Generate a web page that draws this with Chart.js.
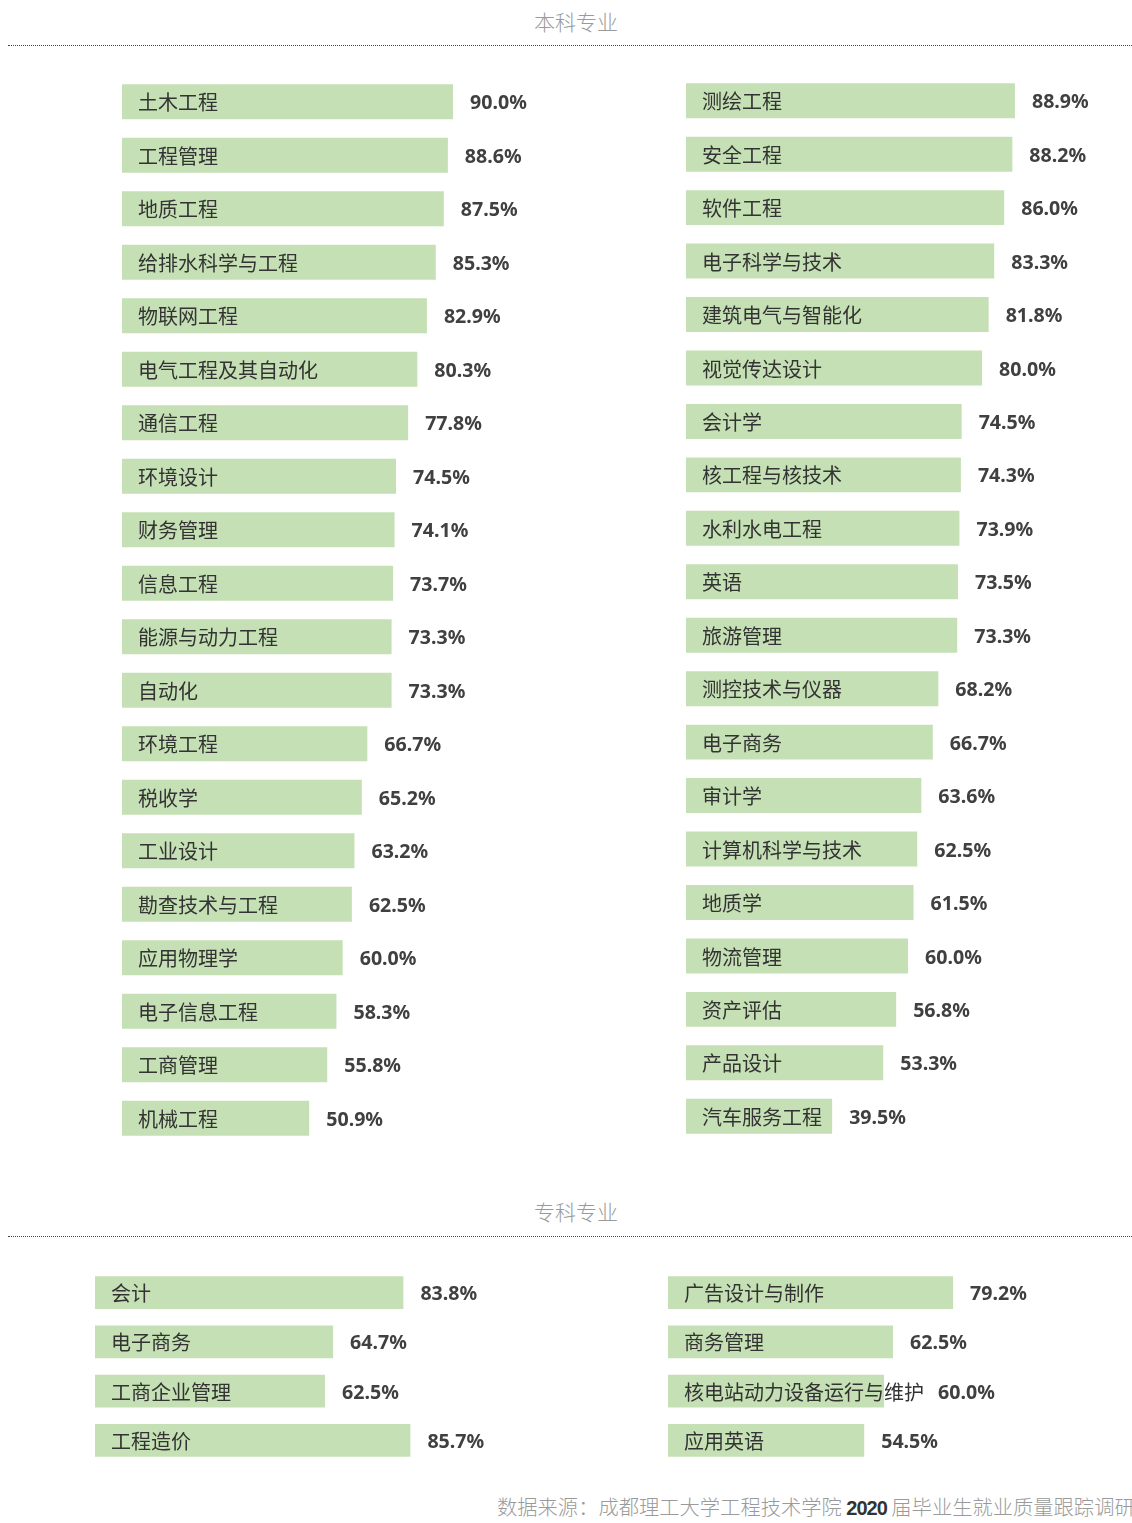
<!DOCTYPE html>
<html>
<head>
<meta charset="utf-8">
<script src="https://cdn.jsdelivr.net/npm/chart.js@4.4.1/dist/chart.umd.min.js"></script>
<style>
  html, body { margin: 0; padding: 0; background: #fff; }
  body { width: 1132px; height: 1523px; position: relative; overflow: hidden; font-family: "Noto Sans CJK SC", "Noto Sans", sans-serif; }
  .title { position: absolute; left: 0; width: 1152px; text-align: center; font-size: 21px; font-weight: 300; color: #9a9a9a; line-height: 1; }
  .rule { position: absolute; left: 8px; width: 1124px; height: 0; border-top: 1px dotted #444; }
  canvas { position: absolute; }
  .foot { position: absolute; left: 497px; top: 1496px; white-space: nowrap; font-size: 20.3px; font-weight: 300; color: #9a9a9a; line-height: 1; }
  .foot b { font-family: "Liberation Sans", sans-serif; font-weight: bold; color: #333; font-size: 20px; letter-spacing: -1px; }
</style>
</head>
<body>
<div class="title" style="top:11px;">本科专业</div>
<div class="rule" style="top:45px;"></div>
<div class="title" style="top:1201px;">专科专业</div>
<div class="rule" style="top:1236px;"></div>
<canvas id="c1"></canvas>
<canvas id="c2"></canvas>
<canvas id="c3"></canvas>
<canvas id="c4"></canvas>
<div class="foot">数据来源：成都理工大学工程技术学院 <b>2020 </b>届毕业生就业质量跟踪调研</div>
<script>
// ---- data ----
const ugLeftMajors = ["土木工程","工程管理","地质工程","给排水科学与工程","物联网工程","电气工程及其自动化","通信工程","环境设计","财务管理","信息工程","能源与动力工程","自动化","环境工程","税收学","工业设计","勘查技术与工程","应用物理学","电子信息工程","工商管理","机械工程"];
const ugLeftRates = [90.0,88.6,87.5,85.3,82.9,80.3,77.8,74.5,74.1,73.7,73.3,73.3,66.7,65.2,63.2,62.5,60.0,58.3,55.8,50.9];

const ugRightMajors = ["测绘工程","安全工程","软件工程","电子科学与技术","建筑电气与智能化","视觉传达设计","会计学","核工程与核技术","水利水电工程","英语","旅游管理","测控技术与仪器","电子商务","审计学","计算机科学与技术","地质学","物流管理","资产评估","产品设计","汽车服务工程"];
const ugRightRates = [88.9,88.2,86.0,83.3,81.8,80.0,74.5,74.3,73.9,73.5,73.3,68.2,66.7,63.6,62.5,61.5,60.0,56.8,53.3,39.5];

const jcLeftMajors = ["会计","电子商务","工商企业管理","工程造价"];
const jcLeftRates = [83.8,64.7,62.5,85.7];

const jcRightMajors = ["广告设计与制作","商务管理","核电站动力设备运行与维护","应用英语"];
const jcRightRates = [79.2,62.5,60.0,54.5];

// ---- drawing ----
const labelPlugin = {
  id: 'barLabels',
  afterDatasetsDraw(chart) {
    const ctx = chart.ctx;
    const meta = chart.getDatasetMeta(0);
    const ds = chart.data.datasets[0];
    ctx.save();
    meta.data.forEach((el, i) => {
      const label = chart.data.labels[i];
      ctx.textBaseline = 'middle';
      ctx.textAlign = 'left';
      ctx.font = '20px "Noto Sans CJK SC", sans-serif';
      ctx.fillStyle = '#333333';
      const lx = el.base + 16;
      ctx.fillText(label, lx, el.y + 1);
      const lEnd = lx + ctx.measureText(label).width;
      ctx.font = 'bold 19.6px "Noto Sans", "Open Sans", sans-serif';
      ctx.fillStyle = '#404040';
      const vx = Math.max(el.x + 17, lEnd + 14);
      ctx.fillText(ds.data[i].toFixed(1) + '%', vx, el.y + 2);
    });
    ctx.restore();
  }
};

function makeChart(id, labels, values, left, top, pitch, pxPer, barH, width) {
  const cv = document.getElementById(id);
  const h = pitch * labels.length;
  cv.width = width;
  cv.height = Math.round(h);
  cv.style.left = left + 'px';
  cv.style.top = top + 'px';
  new Chart(cv, {
    type: 'bar',
    data: {
      labels: labels,
      datasets: [{
        data: values,
        backgroundColor: '#c5e0b4',
        borderWidth: 0,
        barPercentage: barH / pitch,
        categoryPercentage: 1
      }]
    },
    options: {
      indexAxis: 'y',
      responsive: false,
      animation: false,
      devicePixelRatio: 1,
      layout: { padding: 0 },
      plugins: { legend: { display: false }, tooltip: { enabled: false } },
      scales: {
        x: { display: false, min: 0, max: width / pxPer },
        y: { display: false }
      }
    },
    plugins: [labelPlugin]
  });
}

makeChart('c1', ugLeftMajors, ugLeftRates, 122, 75.25, 53.5, 3.678, 35, 440);
makeChart('c2', ugRightMajors, ugRightRates, 686, 74.25, 53.47, 3.70, 35, 446);
makeChart('c3', jcLeftMajors, jcLeftRates, 95, 1267.5, 49.3, 3.68, 33, 470);
makeChart('c4', jcRightMajors, jcRightRates, 668, 1267.5, 49.3, 3.60, 33, 464);
</script>
</body>
</html>
